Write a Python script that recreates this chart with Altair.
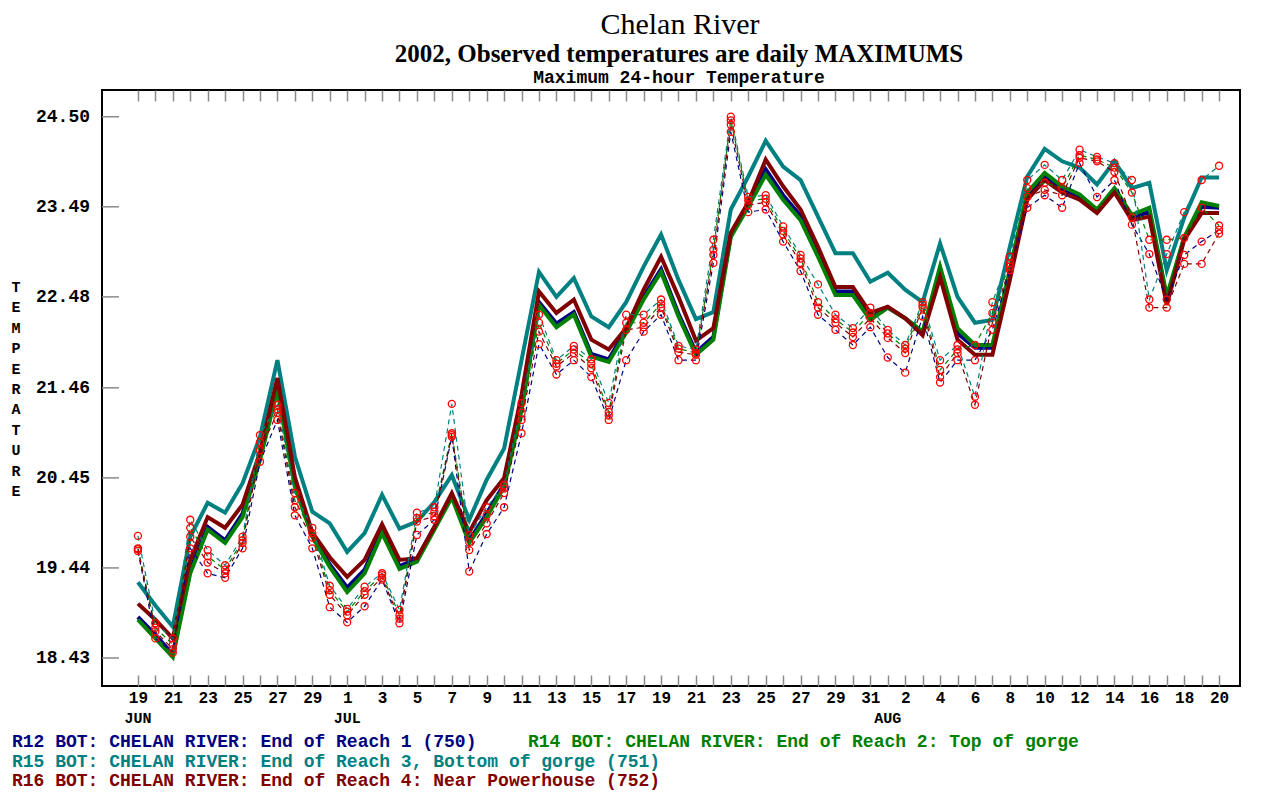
import json
import altair as alt
import pandas as pd

# ---------------- data ----------------
DAY_LABELS = [str(d) for d in range(19, 31)] + [str(d) for d in range(1, 32)] + [str(d) for d in range(1, 21)]
DAY_INDEX = list(range(len(DAY_LABELS)))
MONTHS = ["JUN", "JUL", "AUG"]
MONTH_START = [0, 12, 43]
Y_TICKS = [18.43, 19.44, 20.45, 21.46, 22.48, 23.49, 24.50]
Y_TICK_LABELS = ["18.43", "19.44", "20.45", "21.46", "22.48", "23.49", "24.50"]

SERIES_NAMES = ["R12", "R14", "R15", "R16"]
OBS_NAMES = ["O12", "O14", "O15", "O16"]
SERIES_COLORS = ["#000080", "#008000", "#008080", "#800000"]

R12 = [18.89, 18.69, 18.47, 19.42, 19.90, 19.75, 20.05, 20.69, 21.48, 20.38,
       19.82, 19.48, 19.22, 19.42, 19.87, 19.46, 19.54, 19.90, 20.26, 19.75,
       20.05, 20.38, 21.27, 22.42, 22.18, 22.31, 21.84, 21.78, 22.11, 22.48,
       22.79, 22.29, 21.86, 22.03, 23.18, 23.51, 23.91, 23.62, 23.39, 22.97,
       22.54, 22.54, 22.24, 22.36, 22.24, 22.08, 22.76, 22.07, 21.91, 21.91,
       22.75, 23.61, 23.84, 23.68, 23.60, 23.43, 23.67, 23.37, 23.43, 22.45,
       23.14, 23.49, 23.48]
R14 = [18.86, 18.65, 18.44, 19.38, 19.87, 19.72, 20.01, 20.65, 21.44, 20.35,
       19.79, 19.45, 19.17, 19.38, 19.83, 19.43, 19.51, 19.87, 20.23, 19.72,
       20.01, 20.35, 21.21, 22.39, 22.14, 22.28, 21.81, 21.75, 22.08, 22.45,
       22.76, 22.26, 21.83, 22.00, 23.15, 23.49, 23.85, 23.57, 23.34, 22.93,
       22.50, 22.50, 22.22, 22.36, 22.24, 22.09, 22.82, 22.13, 21.94, 21.94,
       22.78, 23.65, 23.87, 23.72, 23.63, 23.46, 23.70, 23.40, 23.48, 22.49,
       23.15, 23.54, 23.50]
R15 = [19.28, 19.02, 18.78, 19.79, 20.17, 20.06, 20.39, 20.91, 21.77, 20.69,
       20.07, 19.94, 19.62, 19.83, 20.26, 19.88, 19.96, 20.18, 20.48, 19.98,
       20.43, 20.78, 21.77, 22.76, 22.48, 22.69, 22.26, 22.14, 22.42, 22.82,
       23.18, 22.67, 22.23, 22.31, 23.46, 23.83, 24.23, 23.94, 23.79, 23.38,
       22.97, 22.97, 22.65, 22.75, 22.56, 22.42, 23.08, 22.48, 22.19, 22.22,
       23.04, 23.83, 24.14, 24.00, 23.93, 23.74, 24.00, 23.70, 23.76, 22.78,
       23.37, 23.82, 23.82]
R16 = [19.04, 18.86, 18.65, 19.53, 20.01, 19.89, 20.15, 20.74, 21.57, 20.46,
       19.84, 19.56, 19.34, 19.53, 19.93, 19.53, 19.55, 19.90, 20.28, 19.84,
       20.20, 20.45, 21.38, 22.54, 22.30, 22.45, 22.00, 21.89, 22.13, 22.56,
       22.93, 22.48, 21.99, 22.13, 23.20, 23.54, 24.02, 23.72, 23.46, 23.04,
       22.59, 22.59, 22.30, 22.37, 22.24, 22.05, 22.70, 22.00, 21.83, 21.83,
       22.67, 23.57, 23.79, 23.65, 23.57, 23.42, 23.65, 23.34, 23.38, 22.39,
       23.12, 23.42, 23.42]

OBS_R12 = [19.63, 18.65, 18.49, 19.66, 19.38, 19.33, 19.66, 20.63, 21.10, 20.03,
           19.66, 19.00, 18.83, 19.01, 19.31, 18.82, 19.81, 19.98, 20.91, 19.40,
           19.82, 20.12, 20.95, 21.95, 21.61, 21.77, 21.58, 21.10, 21.77, 22.09,
           22.28, 21.77, 21.77, 22.86, 24.33, 23.43, 23.46, 23.10, 22.77, 22.28,
           22.11, 21.94, 22.14, 21.80, 21.63, 22.26, 21.52, 21.77, 21.77, 22.11,
           22.78, 23.48, 23.62, 23.48, 23.98, 23.60, 23.79, 23.29, 22.96, 22.45,
           22.95, 23.10, 23.23]
OBS_R14 = [19.66, 18.77, 18.58, 19.89, 19.57, 19.42, 19.75, 20.85, 21.22, 20.20,
           19.83, 19.19, 18.95, 19.18, 19.36, 18.91, 20.00, 20.07, 20.95, 19.73,
           20.03, 20.33, 21.18, 22.19, 21.73, 21.89, 21.73, 21.19, 22.19, 22.19,
           22.40, 21.90, 21.85, 23.01, 24.46, 23.56, 23.58, 23.22, 22.91, 22.42,
           22.23, 22.08, 22.30, 22.07, 21.90, 22.39, 21.66, 21.89, 21.94, 22.30,
           22.86, 23.70, 23.76, 23.70, 24.07, 24.02, 23.93, 23.65, 23.12, 23.12,
           23.14, 23.48, 23.28]
OBS_R15 = [19.80, 18.82, 18.65, 19.98, 19.64, 19.47, 19.79, 20.93, 21.27, 20.28,
           19.89, 19.24, 18.98, 19.23, 19.38, 18.97, 20.06, 20.12, 21.28, 19.81,
           20.12, 20.37, 21.29, 22.28, 21.77, 21.93, 21.78, 21.29, 22.28, 22.28,
           22.45, 21.93, 21.89, 23.12, 24.50, 23.60, 23.62, 23.27, 22.95, 22.62,
           22.28, 22.13, 22.36, 22.11, 21.94, 22.42, 21.77, 21.94, 21.36, 22.42,
           22.93, 23.79, 23.96, 23.79, 24.13, 24.05, 23.98, 23.79, 22.45, 22.96,
           23.43, 23.79, 23.95]
OBS_R16 = [19.65, 18.73, 18.53, 19.79, 19.50, 19.38, 19.72, 20.76, 21.18, 20.12,
           19.78, 19.14, 18.91, 19.14, 19.33, 18.87, 19.96, 20.02, 20.93, 19.64,
           19.94, 20.28, 21.10, 22.09, 21.70, 21.85, 21.68, 21.15, 22.11, 22.14,
           22.36, 21.86, 21.83, 22.95, 24.41, 23.51, 23.54, 23.18, 22.86, 22.36,
           22.19, 22.03, 22.24, 22.02, 21.85, 22.36, 21.58, 21.85, 21.27, 22.19,
           22.82, 23.60, 23.68, 23.62, 24.04, 24.00, 23.88, 23.37, 22.36, 22.36,
           22.85, 22.85, 23.19]

LEGEND_1A = "R12 BOT: CHELAN RIVER: End of Reach 1 (750)"
LEGEND_1B = "R14 BOT: CHELAN RIVER: End of Reach 2: Top of gorge"
LEGEND_2 = "R15 BOT: CHELAN RIVER: End of Reach 3, Bottom of gorge (751)"
LEGEND_3 = "R16 BOT: CHELAN RIVER: End of Reach 4: Near Powerhouse (752)"

TITLE = "Chelan River"
SUBTITLE = "2002, Observed temperatures are daily MAXIMUMS"
SUBTITLE2 = "Maximum 24-hour Temperature"
Y_TITLE = "TEMPERATURE"

# ---------------- frames ----------------
model_rows = []
for name, vals in zip(SERIES_NAMES, [R12, R14, R15, R16]):
    for d, v in zip(DAY_INDEX, vals):
        model_rows.append({"day": d, "temp": v, "series": name})
models = pd.DataFrame(model_rows)

obs_rows = []
for name, vals in zip(OBS_NAMES, [OBS_R12, OBS_R14, OBS_R15, OBS_R16]):
    for d, v in zip(DAY_INDEX, vals):
        obs_rows.append({"day": d, "temp": v, "series": name})
obs = pd.DataFrame(obs_rows)

months = pd.DataFrame({"pos": MONTH_START, "label": MONTHS})
yticks = pd.DataFrame({"v": Y_TICKS, "lab": Y_TICK_LABELS})

# ---------------- scales / axes ----------------
MONO = "Liberation Mono"
TICK_COLOR = "#8a8a8a"
xscale = alt.Scale(domain=[-2.06, 63.2], nice=False, zero=False)
yscale = alt.Scale(domain=[18.116, 24.80], nice=False, zero=False)
cscale = alt.Scale(domain=SERIES_NAMES + OBS_NAMES, range=SERIES_COLORS + SERIES_COLORS)

label_expr = "datum.value % 2 == 0 ? " + json.dumps(DAY_LABELS) + "[datum.value] : ''"

x_bottom = alt.X("day:Q", scale=xscale, axis=alt.Axis(
    values=DAY_INDEX, labelExpr=label_expr, title=None, grid=False, domain=False,
    tickSize=11, offset=-11, tickColor=TICK_COLOR, tickWidth=1.5,
    labelPadding=3, labelFont=MONO, labelFontWeight="bold", labelFontSize=16,
    labelColor="black", labelOverlap=False, labelFlush=False, labelBound=False))
x_top = alt.X("day:Q", scale=xscale, axis=alt.Axis(
    orient="top", values=DAY_INDEX, labels=False, title=None, grid=False, domain=False,
    tickSize=11, offset=-11, tickColor=TICK_COLOR, tickWidth=1.5))
x_none = alt.X("day:Q", scale=xscale, axis=None)
y_none = alt.Y("temp:Q", scale=yscale, axis=None)

# ---------------- layers ----------------
model_lines = alt.Chart(models).mark_line(strokeWidth=4, strokeJoin="miter").encode(
    x=x_bottom, y=y_none,
    color=alt.Color("series:N", scale=cscale, legend=None),
    detail="series:N")

obs_lines = alt.Chart(obs).mark_line(strokeWidth=1.2, strokeDash=[5, 4]).encode(
    x=x_none, y=y_none,
    color=alt.Color("series:N", scale=cscale, legend=None),
    detail="series:N")

obs_points = alt.Chart(obs).mark_point(shape="circle", filled=False, color="#ff0000",
                                       size=50, strokeWidth=1.3, opacity=1).encode(
    x=x_none, y=y_none)

top_ticks = alt.Chart(models).mark_line(opacity=0).encode(x=x_top, y=y_none, detail="series:N")

ytick_rules = alt.Chart(yticks).mark_rule(color=TICK_COLOR, strokeWidth=1.5).encode(
    y=alt.Y("v:Q", scale=yscale, axis=None), x=alt.value(0), x2=alt.value(17))
ytick_labels = alt.Chart(yticks).mark_text(
    font=MONO, fontWeight="bold", fontSize=18, color="black", align="right", baseline="middle").encode(
    y=alt.Y("v:Q", scale=yscale, axis=None), x=alt.value(-12), text="lab:N")

month_text = alt.Chart(months).mark_text(font=MONO, fontWeight="bold", fontSize=15,
                                         baseline="middle", align="center", color="black").encode(
    x=alt.X("pos:Q", scale=xscale, axis=None), y=alt.value(628), text="label:N")


def label(text, x, y, size, font=MONO, weight="bold", color="black", align="left", baseline="alphabetic"):
    return alt.Chart(pd.DataFrame({"t": [text]})).mark_text(
        font=font, fontWeight=weight, fontSize=size, color=color, align=align, baseline=baseline
    ).encode(x=alt.value(x), y=alt.value(y), text="t:N")


title1 = label(TITLE, 578, -56, 30, font="Liberation Serif", weight="normal", align="center")
title2 = label(SUBTITLE, 577, -28, 25, font="Liberation Serif", weight="bold", align="center")
title3 = label(SUBTITLE2, 577, -7, 18, align="center")

ytitle = alt.Chart(pd.DataFrame({"t": [0]})).mark_text(
    font=MONO, fontWeight="bold", fontSize=15, color="black", align="center",
    baseline="top", lineHeight=20.4).encode(
    x=alt.value(-86), y=alt.value(190), text=alt.value(list(Y_TITLE)))

leg1a = label(LEGEND_1A, -90, 657, 18, color=SERIES_COLORS[0])
leg1b = label(LEGEND_1B, 426, 657, 18, color=SERIES_COLORS[1])
leg2 = label(LEGEND_2, -90, 677, 18, color=SERIES_COLORS[2])
leg3 = label(LEGEND_3, -90, 696, 18, color=SERIES_COLORS[3])

chart = alt.layer(
    model_lines, top_ticks, obs_lines, obs_points, ytick_rules, ytick_labels, month_text,
    title1, title2, title3, ytitle, leg1a, leg1b, leg2, leg3
).resolve_axis(x="independent").properties(
    width=1138, height=596,
    autosize=alt.AutoSizeParams(type="none"),
    padding={"left": 94, "top": 82, "right": 10, "bottom": 104},
    background="white",
).configure_view(stroke="black", strokeWidth=2)

chart.save("out.html", embed_options={"renderer": "svg", "actions": False})
